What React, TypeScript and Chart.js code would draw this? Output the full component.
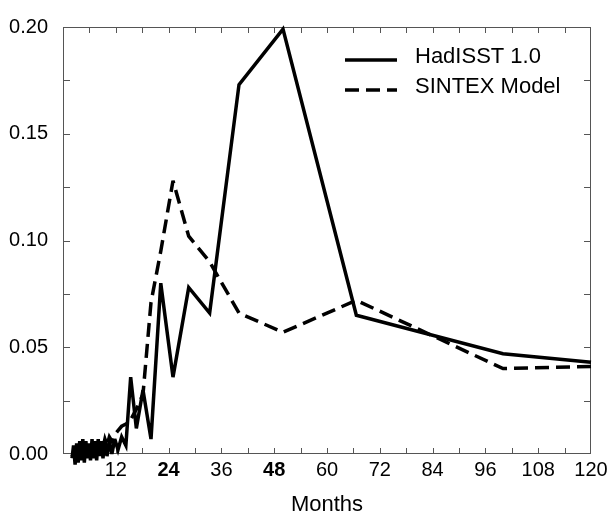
import React, { useEffect, useRef } from "react";
import { Chart, registerables } from "chart.js";

Chart.register(...registerables);

// Period (months) of each spectral estimate, shared by both series
const PERIODS = [
  120, 100, 66.67, 50, 40, 33.33, 28.57, 25, 22.22, 20,
  18.18, 16.67, 15.38, 14.29, 13.33, 12.5, 11.76, 11.11, 10.53, 10,
  9.52, 9.09, 8.7, 8.33, 8.0, 7.65, 7.3, 6.95, 6.6, 6.25,
  5.9, 5.55, 5.2, 4.85, 4.5, 4.15, 3.8, 3.45, 3.1, 2.75,
  2.4, 2.05,
];

const HADISST = [
  0.043, 0.047, 0.065, 0.199, 0.173, 0.066, 0.078, 0.036, 0.08, 0.007,
  0.03, 0.012, 0.036, 0.004, 0.008, 0.002, 0.007, 0.0, 0.006, -0.001,
  0.007, -0.002, 0.006, -0.001, 0.007, -0.003, 0.006, -0.002, 0.007, -0.003,
  0.005, -0.002, 0.006, -0.004, 0.007, -0.003, 0.006, -0.004, 0.005, -0.005,
  0.004, -0.002,
];

const SINTEX = [
  0.041, 0.04, 0.072, 0.057, 0.066, 0.09, 0.102, 0.128, 0.095, 0.071,
  0.028, 0.021, 0.016, 0.014, 0.013, 0.011, 0.009, 0.006, 0.008, 0.004,
  0.007, 0.003, 0.006, 0.002, 0.005, 0.001, 0.005, 0.0, 0.005, 0.0,
  0.004, -0.001, 0.004, -0.001, 0.004, -0.002, 0.003, -0.002, 0.003, -0.003,
  0.002, -0.001,
];

const SERIES_LABELS = ["HadISST 1.0", "SINTEX Model"];
const X_TITLE = "Months";
const X_RANGE = [0, 120];
const Y_RANGE = [0, 0.2];
const X_LABEL_STEP = 12;
const X_MINOR_STEP = 6;
const Y_LABEL_STEP = 0.05;
const Y_MINOR_STEP = 0.025;
const BOLD_X_TICKS = [24, 48];

const FONT = "'Liberation Sans', Arial, Helvetica, sans-serif";

const framePlugin = {
  id: "frameTicks",
  beforeDatasetsDraw(chart: any) {
    const { ctx, chartArea, scales } = chart;
    const { left, right, top, bottom } = chartArea;
    const x = scales.x;
    const y = scales.y;
    ctx.save();
    ctx.strokeStyle = "#555";
    ctx.lineWidth = 1;
    ctx.strokeRect(left + 0.5, top + 0.5, right - left - 1, bottom - top - 1);
    ctx.beginPath();
    for (let v = x.min + X_MINOR_STEP; v < x.max - 1e-9; v += X_MINOR_STEP) {
      const px = Math.round(x.getPixelForValue(v)) + 0.5;
      ctx.moveTo(px, bottom);
      ctx.lineTo(px, bottom - 6);
      ctx.moveTo(px, top);
      ctx.lineTo(px, top + 6);
    }
    for (let v = y.min + Y_MINOR_STEP; v < y.max - 1e-9; v += Y_MINOR_STEP) {
      const py = Math.round(y.getPixelForValue(v)) + 0.5;
      ctx.moveTo(left, py);
      ctx.lineTo(left + 7, py);
      ctx.moveTo(right, py);
      ctx.lineTo(right - 7, py);
    }
    ctx.stroke();
    ctx.restore();
    // keep sharp corners on the main curve but tame needle-like spikes
    ctx.miterLimit = 4;
  },
};

const legendPlugin = {
  id: "insetLegend",
  afterDraw(chart: any) {
    const { ctx } = chart;
    const lineStart = 345;
    const lineEnd = 397;
    const textX = 415;
    const firstLineY = 60;
    const firstTextY = 63;
    const rowGap = 30;
    chart.data.datasets.forEach((ds: any, i: number) => {
      ctx.save();
      ctx.strokeStyle = ds.borderColor;
      ctx.lineWidth = 3.5;
      ctx.lineCap = "butt";
      ctx.setLineDash(ds.borderDash || []);
      ctx.beginPath();
      ctx.moveTo(lineStart, firstLineY + i * rowGap);
      ctx.lineTo(lineEnd, firstLineY + i * rowGap);
      ctx.stroke();
      ctx.setLineDash([]);
      ctx.fillStyle = "#000";
      ctx.font = `22px ${FONT}`;
      ctx.textAlign = "left";
      ctx.textBaseline = "alphabetic";
      ctx.fillText(ds.label, textX, firstTextY + i * rowGap);
      ctx.restore();
    });
  },
};

export default function App() {
  const canvasRef = useRef<HTMLCanvasElement | null>(null);

  useEffect(() => {
    const canvas = canvasRef.current;
    if (!canvas) return;
    const toPoints = (vals: number[]) =>
      PERIODS.map((p, i) => ({ x: p, y: vals[i] }));

    const chart = new Chart(canvas, {
      type: "line",
      data: {
        datasets: [
          {
            label: SERIES_LABELS[0],
            data: toPoints(HADISST),
            borderColor: "#000",
            borderWidth: 3.5,
            borderJoinStyle: "miter",
            pointRadius: 0,
            tension: 0,
            fill: false,
            clip: false,
          },
          {
            label: SERIES_LABELS[1],
            data: toPoints(SINTEX),
            borderColor: "#000",
            borderWidth: 3.5,
            borderDash: [14, 7],
            borderJoinStyle: "miter",
            pointRadius: 0,
            tension: 0,
            fill: false,
            clip: false,
          },
        ],
      },
      options: {
        animation: false,
        responsive: false,
        devicePixelRatio: 1,
        parsing: false as any,
        layout: { padding: { top: 14, right: 22, left: 0, bottom: 0 } },
        plugins: {
          legend: { display: false },
          tooltip: { enabled: false },
        },
        scales: {
          x: {
            type: "linear",
            min: X_RANGE[0],
            max: X_RANGE[1],
            border: { display: false },
            grid: { display: false, drawTicks: false },
            ticks: {
              stepSize: X_LABEL_STEP,
              padding: 4,
              color: "#000",
              maxRotation: 0,
              autoSkip: false,
              callback: (v: any) => (Number(v) === 0 ? "" : String(v)),
              font: (c: any) => ({
                family: FONT,
                size: 20,
                weight:
                  c.tick && BOLD_X_TICKS.includes(c.tick.value) ? "bold" : "normal",
              }),
            },
            title: {
              display: true,
              text: X_TITLE,
              color: "#000",
              font: { family: FONT, size: 22 },
              padding: { top: 0, bottom: 1 },
            },
            afterFit: (s: any) => {
              s.height = 65;
            },
          },
          y: {
            type: "linear",
            min: Y_RANGE[0],
            max: Y_RANGE[1],
            border: { display: false },
            grid: { display: false, drawTicks: false },
            ticks: {
              stepSize: Y_LABEL_STEP,
              padding: 15,
              color: "#000",
              font: { family: FONT, size: 20 },
              callback: (v: any) => Number(v).toFixed(2),
            },
            afterFit: (s: any) => {
              s.width = 63;
            },
          },
        },
      },
      plugins: [framePlugin, legendPlugin],
    } as any);

    return () => chart.destroy();
  }, []);

  return (
    <div style={{ position: "fixed", left: 0, top: 0, width: 613, height: 519, background: "#fff" }}>
      <canvas ref={canvasRef} width={613} height={519} style={{ width: 613, height: 519 }} />
    </div>
  );
}
